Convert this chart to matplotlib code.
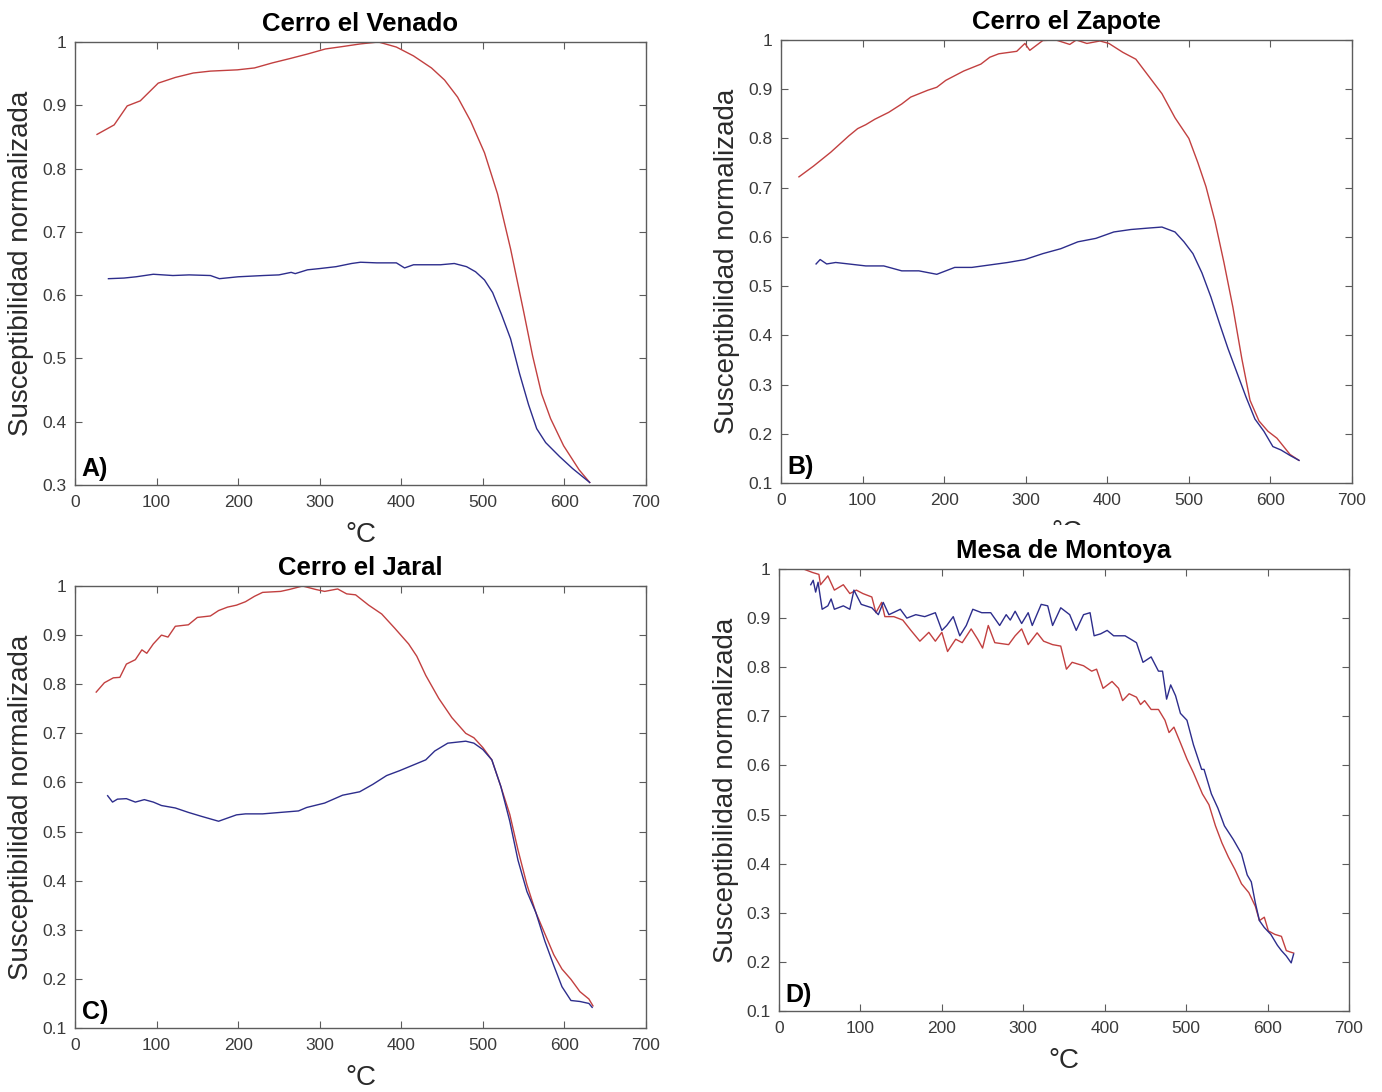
import matplotlib
matplotlib.use("Agg")
import matplotlib.pyplot as plt
import numpy as np
from matplotlib.transforms import Bbox, TransformedBbox
from matplotlib.ticker import FuncFormatter, MultipleLocator

plt.rcParams["font.family"] = ["Liberation Sans", "DejaVu Sans"]

# ---------------------------------------------------------------------------
# Normalised susceptibility vs temperature (°C)
# ---------------------------------------------------------------------------
xticks = [0, 100, 200, 300, 400, 500, 600, 700]

# A) Cerro el Venado
venado_red_t = [27, 48, 64, 80, 91, 102, 123, 145, 166, 199, 220, 242, 264, 285,
                307, 329, 350, 372, 394, 415, 437, 453, 469, 485, 502, 518, 534,
                550, 561, 572, 583, 599, 610, 618, 631]
venado_red_v = [0.854, 0.869, 0.899, 0.907, 0.921, 0.935, 0.944, 0.951, 0.954,
                0.956, 0.959, 0.967, 0.974, 0.981, 0.989, 0.993, 0.997, 1.000,
                0.992, 0.978, 0.959, 0.940, 0.913, 0.875, 0.825, 0.760, 0.673,
                0.574, 0.504, 0.444, 0.405, 0.362, 0.340, 0.324, 0.304]
venado_blue_t = [41, 60, 75, 96, 120, 140, 166, 177, 200, 231, 250, 265, 270, 285,
                 300, 320, 339, 350, 370, 394, 404, 415, 448, 465, 480, 491, 502,
                 512, 523, 534, 545, 556, 566, 577, 594, 610, 631]
venado_blue_v = [0.626, 0.627, 0.629, 0.633, 0.631, 0.632, 0.631, 0.626, 0.629,
                 0.631, 0.632, 0.636, 0.634, 0.640, 0.642, 0.645, 0.650, 0.652,
                 0.651, 0.651, 0.643, 0.648, 0.648, 0.650, 0.645, 0.637, 0.624,
                 0.604, 0.569, 0.531, 0.476, 0.427, 0.389, 0.367, 0.345, 0.326,
                 0.304]

# B) Cerro el Zapote
zapote_red_t = [22, 40, 61, 83, 94, 104, 115, 132, 148, 159, 180, 191, 202, 224,
                245, 256, 267, 289, 299, 305, 321, 337, 354, 362, 375, 391, 402,
                419, 435, 451, 467, 483, 500, 511, 521, 532, 543, 554, 565, 575,
                586, 597, 608, 624, 635]
zapote_red_v = [0.722, 0.744, 0.772, 0.805, 0.820, 0.828, 0.839, 0.853, 0.870,
                0.884, 0.898, 0.904, 0.918, 0.937, 0.951, 0.965, 0.972, 0.977,
                0.993, 0.979, 0.999, 1.000, 0.991, 1.000, 0.993, 0.998, 0.993,
                0.975, 0.961, 0.926, 0.891, 0.842, 0.800, 0.751, 0.702, 0.632,
                0.548, 0.457, 0.352, 0.268, 0.226, 0.205, 0.191, 0.158, 0.146]
zapote_blue_t = [43, 48, 56, 67, 83, 104, 126, 148, 169, 191, 213, 234, 256, 278,
                 299, 321, 343, 364, 386, 408, 429, 451, 467, 483, 494, 505, 516,
                 527, 538, 548, 559, 570, 581, 592, 603, 613, 624, 635]
zapote_blue_v = [0.545, 0.554, 0.545, 0.548, 0.545, 0.541, 0.541, 0.531, 0.531,
                 0.524, 0.538, 0.538, 0.543, 0.548, 0.554, 0.566, 0.576, 0.590,
                 0.597, 0.610, 0.615, 0.618, 0.620, 0.610, 0.590, 0.566, 0.527,
                 0.478, 0.422, 0.373, 0.324, 0.275, 0.230, 0.205, 0.174, 0.167,
                 0.156, 0.146]

# C) Cerro el Jaral
jaral_red_t = [26, 36, 47, 55, 63, 74, 82, 88, 96, 106, 114, 123, 139, 150, 166,
               176, 187, 198, 209, 220, 230, 252, 263, 279, 295, 306, 322, 333,
               344, 360, 376, 392, 409, 419, 430, 446, 462, 479, 489, 500, 511,
               522, 533, 543, 554, 565, 576, 587, 597, 608, 619, 630, 635]
jaral_red_v = [0.784, 0.803, 0.813, 0.814, 0.841, 0.850, 0.870, 0.863, 0.882,
               0.900, 0.896, 0.918, 0.921, 0.936, 0.939, 0.950, 0.957, 0.961,
               0.968, 0.979, 0.987, 0.989, 0.993, 1.000, 0.993, 0.989, 0.994,
               0.984, 0.982, 0.961, 0.943, 0.914, 0.882, 0.857, 0.818, 0.771,
               0.732, 0.700, 0.691, 0.671, 0.646, 0.592, 0.535, 0.463, 0.392,
               0.335, 0.292, 0.249, 0.220, 0.199, 0.174, 0.159, 0.145]
jaral_blue_t = [40, 46, 52, 63, 74, 85, 96, 106, 123, 139, 155, 176, 198, 209,
                230, 252, 274, 284, 306, 328, 349, 365, 382, 398, 414, 430, 441,
                457, 479, 489, 500, 511, 522, 533, 543, 554, 565, 576, 587, 597,
                608, 619, 630, 634]
jaral_blue_v = [0.573, 0.560, 0.566, 0.567, 0.560, 0.565, 0.560, 0.553, 0.548,
                0.539, 0.531, 0.521, 0.534, 0.536, 0.536, 0.539, 0.542, 0.549,
                0.558, 0.574, 0.581, 0.596, 0.614, 0.624, 0.635, 0.646, 0.664,
                0.680, 0.684, 0.680, 0.667, 0.646, 0.592, 0.521, 0.442, 0.378,
                0.335, 0.277, 0.227, 0.184, 0.156, 0.154, 0.150, 0.142]

# D) Mesa de Montoya
montoya_red_t = [30, 41, 49, 51, 60, 68, 79, 87, 95, 103, 114, 119, 126, 130, 141,
                 152, 162, 173, 184, 192, 200, 207, 217, 225, 236, 244, 250, 257,
                 265, 282, 290, 298, 306, 317, 325, 336, 346, 353, 360, 374, 384,
                 390, 398, 409, 417, 422, 430, 439, 444, 449, 457, 466, 474, 479,
                 485, 493, 501, 509, 520, 528, 536, 544, 552, 560, 568, 577, 585,
                 590, 596, 601, 609, 617, 623, 628, 632]
montoya_red_v = [1.000, 0.993, 0.989, 0.968, 0.986, 0.957, 0.968, 0.950, 0.957,
                 0.950, 0.943, 0.911, 0.932, 0.903, 0.903, 0.896, 0.875, 0.853,
                 0.871, 0.853, 0.871, 0.832, 0.857, 0.850, 0.878, 0.857, 0.839,
                 0.885, 0.850, 0.846, 0.864, 0.878, 0.846, 0.870, 0.853, 0.846,
                 0.843, 0.796, 0.810, 0.803, 0.792, 0.796, 0.757, 0.771, 0.757,
                 0.732, 0.746, 0.739, 0.724, 0.732, 0.714, 0.714, 0.692, 0.667,
                 0.678, 0.646, 0.613, 0.585, 0.542, 0.520, 0.477, 0.442, 0.413,
                 0.388, 0.359, 0.341, 0.313, 0.284, 0.291, 0.263, 0.256, 0.252,
                 0.223, 0.220, 0.218]
montoya_blue_t = [39, 42, 45, 48, 53, 60, 64, 68, 79, 87, 92, 101, 114, 122, 128,
                  135, 149, 157, 168, 179, 192, 200, 206, 214, 222, 230, 238, 249,
                  260, 271, 279, 284, 290, 298, 306, 311, 322, 330, 336, 346, 357,
                  365, 374, 382, 387, 395, 403, 411, 425, 439, 447, 457, 466, 471,
                  476, 481, 487, 493, 501, 509, 519, 522, 531, 539, 547, 558, 568,
                  575, 580, 585, 590, 596, 604, 612, 617, 623, 629, 632]
montoya_blue_v = [0.968, 0.977, 0.953, 0.973, 0.918, 0.925, 0.939, 0.918, 0.925,
                  0.918, 0.957, 0.928, 0.921, 0.907, 0.932, 0.907, 0.918, 0.900,
                  0.907, 0.903, 0.911, 0.875, 0.885, 0.903, 0.864, 0.885, 0.918,
                  0.911, 0.911, 0.885, 0.907, 0.896, 0.914, 0.889, 0.911, 0.885,
                  0.928, 0.925, 0.885, 0.921, 0.907, 0.875, 0.907, 0.911, 0.864,
                  0.868, 0.875, 0.864, 0.864, 0.850, 0.810, 0.821, 0.792, 0.792,
                  0.735, 0.764, 0.742, 0.706, 0.692, 0.642, 0.592, 0.592, 0.542,
                  0.513, 0.477, 0.449, 0.420, 0.377, 0.363, 0.320, 0.284, 0.270,
                  0.256, 0.234, 0.223, 0.212, 0.198, 0.216]

RED = "#c24040"
BLUE = "#2d2d8c"
AXIS_GREY = "#5c5c5c"
LABEL_GREY = "#3a3a3a"

W, H = 1382, 1092


def px_rect(x0, x1, y_top, y_bot):
    """Axes box in figure fractions from pixel edges."""
    return [x0 / W, 1 - y_bot / H, (x1 - x0) / W, (y_bot - y_top) / H]


panels = [
    dict(tag="A)", title="Cerro el Venado", box=px_rect(75, 646, 42, 485),
         ylim=(0.3, 1.0), curves=[(venado_red_t, venado_red_v, RED),
                                  (venado_blue_t, venado_blue_v, BLUE)]),
    dict(tag="B)", title="Cerro el Zapote", box=px_rect(781, 1352, 40, 483),
         ylim=(0.1, 1.0), curves=[(zapote_red_t, zapote_red_v, RED),
                                  (zapote_blue_t, zapote_blue_v, BLUE)]),
    dict(tag="C)", title="Cerro el Jaral", box=px_rect(75, 646, 586, 1028),
         ylim=(0.1, 1.0), curves=[(jaral_red_t, jaral_red_v, RED),
                                  (jaral_blue_t, jaral_blue_v, BLUE)]),
    dict(tag="D)", title="Mesa de Montoya", box=px_rect(779, 1349, 569, 1011),
         ylim=(0.1, 1.0), curves=[(montoya_red_t, montoya_red_v, RED),
                                  (montoya_blue_t, montoya_blue_v, BLUE)]),
]

fig = plt.figure(figsize=(W / 100, H / 100), dpi=100)
fig.patch.set_facecolor("white")

fmt = FuncFormatter(lambda v, _: f"{round(v, 2):g}")
axes = []
for i, p in enumerate(panels):
    ax = fig.add_axes(p["box"])
    for t, v, c in p["curves"]:
        ax.plot(t, v, color=c, lw=1.0)
    ax.set_xlim(0, 700)
    ax.set_ylim(*p["ylim"])
    ax.set_xticks(xticks)
    ax.yaxis.set_major_locator(MultipleLocator(0.1))
    ax.yaxis.set_major_formatter(fmt)
    ax.tick_params(direction="in", length=5, width=0.8, color=AXIS_GREY,
                   labelcolor=LABEL_GREY, labelsize=12.5,
                   top=True, right=True)
    ax.tick_params(axis="x", pad=7)
    ax.tick_params(axis="y", pad=6)
    for s in ax.spines.values():
        s.set_color(AXIS_GREY)
        s.set_linewidth(1.0)
    ax.set_title(p["title"], fontsize=18.5, fontweight="bold", pad=8)
    ax.set_ylabel("Susceptibilidad normalizada", fontsize=20, color="#2a2a2a")
    ax.yaxis.set_label_coords(-0.071, 0.5)
    ax.set_xlabel("°C", fontsize=20, color="#2a2a2a")
    ax.xaxis.set_label_coords(0.5, -0.084)
    ax.text(0.012, 0.008, p["tag"], transform=ax.transAxes, ha="left",
            va="bottom", fontsize=18, fontweight="bold")
    axes.append(ax)

# the "°C" under panel B is cut off by the panel below it: only its top shows
b_label = axes[1].xaxis.label
b_label.set_clip_box(TransformedBbox(Bbox.from_extents(0, 1 - 525 / H, 1, 1),
                                     fig.transFigure))
b_label.set_clip_on(True)

fig.savefig("out.png", dpi=100, facecolor="white")
